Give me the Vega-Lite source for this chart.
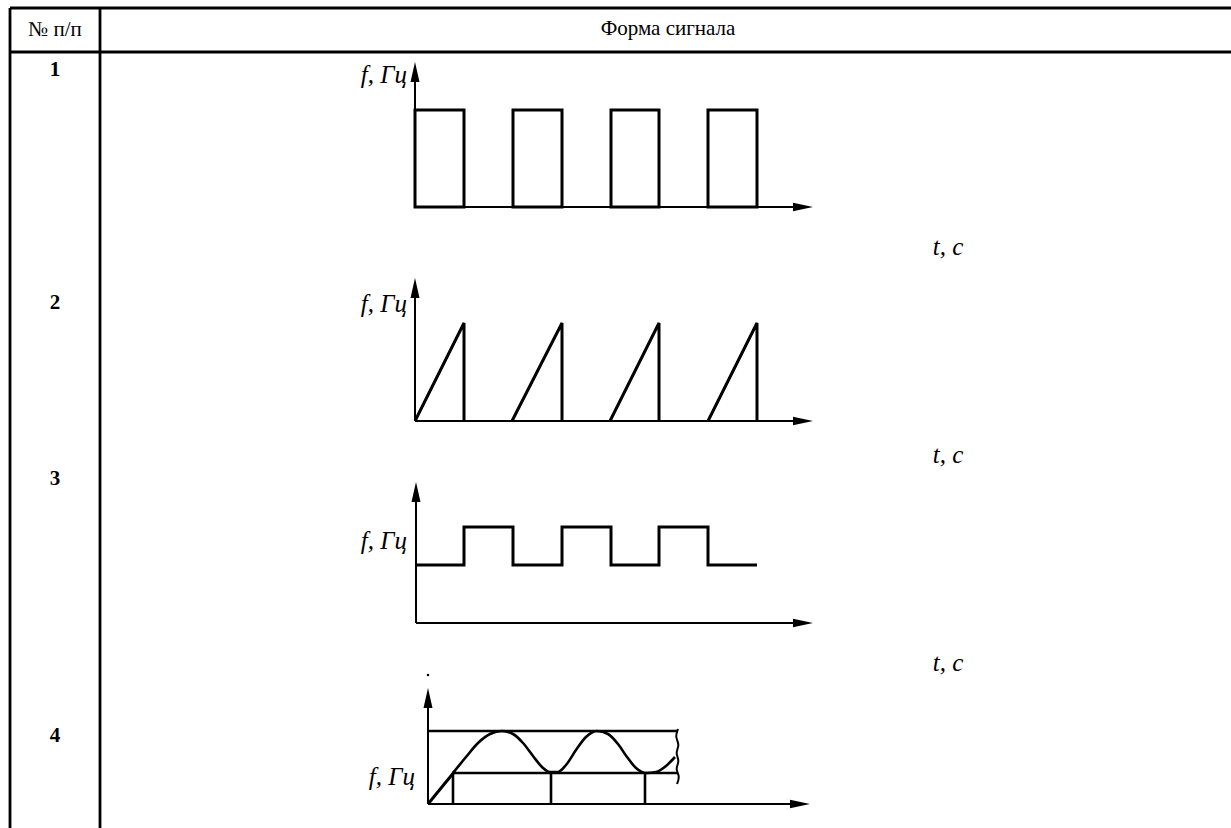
{
  "$schema": "https://vega.github.io/schema/vega-lite/v6.json",
  "width": 1231,
  "height": 828,
  "autosize": "none",
  "padding": 0,
  "background": "white",
  "config": {"view": {"stroke": null}},
  "datasets": {
    "table": [
      {"x": 10, "y": 8, "x2": 1231, "y2": 8},
      {"x": 10, "y": 52, "x2": 1231, "y2": 52},
      {"x": 10, "y": 8, "x2": 10, "y2": 828},
      {"x": 100, "y": 8, "x2": 100, "y2": 828}
    ],
    "axes": [
      {"x": 415, "y": 207, "x2": 415, "y2": 72},
      {"x": 415, "y": 207, "x2": 798, "y2": 207},
      {"x": 415, "y": 421, "x2": 415, "y2": 288},
      {"x": 415, "y": 421, "x2": 798, "y2": 421},
      {"x": 416, "y": 623, "x2": 416, "y2": 492},
      {"x": 416, "y": 623, "x2": 798, "y2": 623},
      {"x": 428, "y": 804, "x2": 428, "y2": 698},
      {"x": 428, "y": 804, "x2": 795, "y2": 804}
    ],
    "pulses": [
      {"x": 415, "x2": 464, "y": 110, "y2": 207},
      {"x": 513, "x2": 562, "y": 110, "y2": 207},
      {"x": 611, "x2": 659, "y": 110, "y2": 207},
      {"x": 708, "x2": 757, "y": 110, "y2": 207}
    ],
    "frame4": [
      {"x": 428, "y": 731, "x2": 678, "y2": 731},
      {"x": 453, "y": 773, "x2": 678, "y2": 773},
      {"x": 453, "y": 773, "x2": 453, "y2": 804},
      {"x": 551, "y": 773, "x2": 551, "y2": 804},
      {"x": 645, "y": 773, "x2": 645, "y2": 804}
    ],
    "signals": [
      {"s": "saw1", "i": 0, "x": 415, "y": 421},
      {"s": "saw1", "i": 1, "x": 464, "y": 323},
      {"s": "saw1", "i": 2, "x": 464, "y": 421},
      {"s": "saw2", "i": 0, "x": 512, "y": 421},
      {"s": "saw2", "i": 1, "x": 562, "y": 323},
      {"s": "saw2", "i": 2, "x": 562, "y": 421},
      {"s": "saw3", "i": 0, "x": 610, "y": 421},
      {"s": "saw3", "i": 1, "x": 659, "y": 323},
      {"s": "saw3", "i": 2, "x": 659, "y": 421},
      {"s": "saw4", "i": 0, "x": 708, "y": 421},
      {"s": "saw4", "i": 1, "x": 757, "y": 323},
      {"s": "saw4", "i": 2, "x": 757, "y": 421},
      {"s": "sq", "i": 0, "x": 416, "y": 565},
      {"s": "sq", "i": 1, "x": 464, "y": 565},
      {"s": "sq", "i": 2, "x": 464, "y": 527},
      {"s": "sq", "i": 3, "x": 513, "y": 527},
      {"s": "sq", "i": 4, "x": 513, "y": 565},
      {"s": "sq", "i": 5, "x": 562, "y": 565},
      {"s": "sq", "i": 6, "x": 562, "y": 527},
      {"s": "sq", "i": 7, "x": 611, "y": 527},
      {"s": "sq", "i": 8, "x": 611, "y": 565},
      {"s": "sq", "i": 9, "x": 659, "y": 565},
      {"s": "sq", "i": 10, "x": 659, "y": 527},
      {"s": "sq", "i": 11, "x": 708, "y": 527},
      {"s": "sq", "i": 12, "x": 708, "y": 565},
      {"s": "sq", "i": 13, "x": 757, "y": 565},
      {"s": "ramp", "i": 0, "x": 428, "y": 804},
      {"s": "ramp", "i": 1, "x": 455, "y": 771}
    ],
    "wave": [
      {"i": 0, "x": 453, "y": 773},
      {"i": 1, "x": 466, "y": 757},
      {"i": 2, "x": 478, "y": 743},
      {"i": 3, "x": 490, "y": 734},
      {"i": 4, "x": 502, "y": 731},
      {"i": 5, "x": 513, "y": 734},
      {"i": 6, "x": 523, "y": 743},
      {"i": 7, "x": 533, "y": 756},
      {"i": 8, "x": 542, "y": 767},
      {"i": 9, "x": 550, "y": 772},
      {"i": 10, "x": 558, "y": 772},
      {"i": 11, "x": 566, "y": 765},
      {"i": 12, "x": 576, "y": 750},
      {"i": 13, "x": 586, "y": 737},
      {"i": 14, "x": 597, "y": 731},
      {"i": 15, "x": 608, "y": 734},
      {"i": 16, "x": 618, "y": 744},
      {"i": 17, "x": 627, "y": 757},
      {"i": 18, "x": 636, "y": 768},
      {"i": 19, "x": 646, "y": 773},
      {"i": 20, "x": 656, "y": 772},
      {"i": 21, "x": 666, "y": 766},
      {"i": 22, "x": 675, "y": 757}
    ],
    "break": [
      {"i": 0, "x": 678, "y": 729},
      {"i": 1, "x": 675, "y": 737},
      {"i": 2, "x": 680, "y": 745},
      {"i": 3, "x": 675, "y": 753},
      {"i": 4, "x": 680, "y": 761},
      {"i": 5, "x": 675, "y": 769},
      {"i": 6, "x": 680, "y": 776},
      {"i": 7, "x": 677, "y": 784}
    ],
    "arrows": [
      {"dir": "up", "x": 415, "y": 62},
      {"dir": "right", "x": 813, "y": 207},
      {"dir": "up", "x": 415, "y": 278},
      {"dir": "right", "x": 813, "y": 421},
      {"dir": "up", "x": 416, "y": 482},
      {"dir": "right", "x": 813, "y": 623},
      {"dir": "up", "x": 428, "y": 688},
      {"dir": "right", "x": 810, "y": 804}
    ],
    "dot": [{"x": 428, "y": 675}],
    "header": [
      {"x": 55, "y": 30, "t": "№ п/п"},
      {"x": 668, "y": 29, "t": "Форма сигнала"}
    ],
    "nums": [
      {"x": 55, "y": 70, "t": "1"},
      {"x": 55, "y": 303, "t": "2"},
      {"x": 55, "y": 479, "t": "3"},
      {"x": 55, "y": 736, "t": "4"}
    ],
    "flabels": [
      {"x": 407, "y": 75, "t": "f, Гц"},
      {"x": 407, "y": 304, "t": "f, Гц"},
      {"x": 407, "y": 541, "t": "f, Гц"},
      {"x": 415, "y": 777, "t": "f, Гц"}
    ],
    "tlabels": [
      {"x": 948, "y": 247, "t": "t, c"},
      {"x": 948, "y": 455, "t": "t, c"},
      {"x": 948, "y": 663, "t": "t, c"}
    ]
  },
  "encoding": {
    "x": {"field": "x", "type": "quantitative", "scale": {"domain": [0, 1231], "nice": false, "zero": false}, "axis": null},
    "y": {"field": "y", "type": "quantitative", "scale": {"domain": [0, 828], "nice": false, "zero": false, "reverse": true}, "axis": null}
  },
  "layer": [
    {
      "data": {"name": "table"},
      "mark": {"type": "rule", "color": "black", "strokeWidth": 2.8},
      "encoding": {"x2": {"field": "x2"}, "y2": {"field": "y2"}}
    },
    {
      "data": {"name": "axes"},
      "mark": {"type": "rule", "color": "black", "strokeWidth": 2},
      "encoding": {"x2": {"field": "x2"}, "y2": {"field": "y2"}}
    },
    {
      "data": {"name": "frame4"},
      "mark": {"type": "rule", "color": "black", "strokeWidth": 2.6},
      "encoding": {"x2": {"field": "x2"}, "y2": {"field": "y2"}}
    },
    {
      "data": {"name": "pulses"},
      "mark": {"type": "rect", "fill": null, "fillOpacity": 0, "stroke": "black", "strokeWidth": 3},
      "encoding": {"x2": {"field": "x2"}, "y2": {"field": "y2"}}
    },
    {
      "data": {"name": "signals"},
      "mark": {"type": "line", "color": "black", "strokeWidth": 3, "strokeJoin": "miter"},
      "encoding": {"detail": {"field": "s"}, "order": {"field": "i", "type": "quantitative"}}
    },
    {
      "data": {"name": "wave"},
      "mark": {"type": "line", "color": "black", "strokeWidth": 2.6, "interpolate": "monotone"},
      "encoding": {"order": {"field": "i", "type": "quantitative"}}
    },
    {
      "data": {"name": "break"},
      "mark": {"type": "line", "color": "black", "strokeWidth": 2, "interpolate": "basis"},
      "encoding": {"order": {"field": "i", "type": "quantitative"}}
    },
    {
      "data": {"name": "arrows"},
      "mark": {"type": "point", "filled": true, "color": "black", "opacity": 1, "size": 400},
      "encoding": {
        "shape": {"field": "dir", "type": "nominal", "legend": null,
          "scale": {"domain": ["right", "up"], "range": ["M0,0L-2,-0.42L-2,0.42Z", "M0,0L-0.45,2L0.45,2Z"]}}
      }
    },
    {
      "data": {"name": "dot"},
      "mark": {"type": "point", "filled": true, "color": "black", "opacity": 1, "size": 6, "shape": "circle"}
    },
    {
      "data": {"name": "header"},
      "mark": {"type": "text", "font": "Liberation Serif", "fontSize": 21, "color": "black", "align": "center", "baseline": "middle"},
      "encoding": {"text": {"field": "t"}}
    },
    {
      "data": {"name": "nums"},
      "mark": {"type": "text", "font": "Liberation Serif", "fontSize": 21, "fontWeight": "bold", "color": "black", "align": "center", "baseline": "middle"},
      "encoding": {"text": {"field": "t"}}
    },
    {
      "data": {"name": "flabels"},
      "mark": {"type": "text", "font": "Liberation Serif", "fontSize": 25, "fontStyle": "italic", "color": "black", "align": "right", "baseline": "middle"},
      "encoding": {"text": {"field": "t"}}
    },
    {
      "data": {"name": "tlabels"},
      "mark": {"type": "text", "font": "Liberation Serif", "fontSize": 25, "fontStyle": "italic", "color": "black", "align": "center", "baseline": "middle"},
      "encoding": {"text": {"field": "t"}}
    }
  ]
}
